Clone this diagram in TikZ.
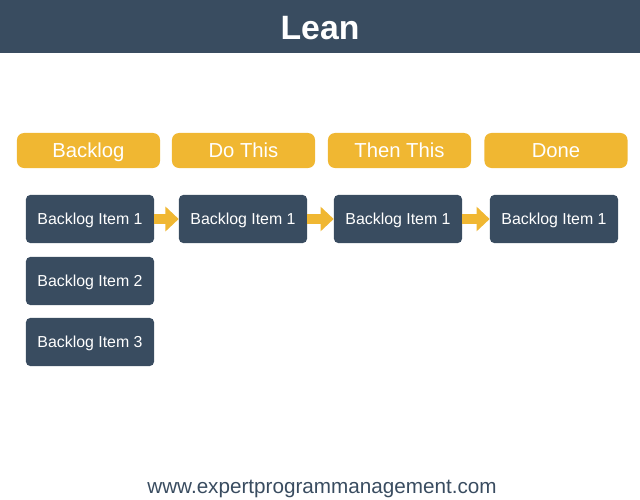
\documentclass[tikz,border=0pt]{standalone}
\usepackage{fontspec}
\setmainfont{Liberation Sans}
\usetikzlibrary{arrows.meta}
\definecolor{slate}{RGB}{57,76,96}
\definecolor{amber}{RGB}{240,183,50}
\tikzset{
  stage/.style={fill=amber, rounded corners=5pt, text=white, font=\fontsize{14.4}{16}\selectfont,
      minimum width=3.575cm, minimum height=0.875cm, inner sep=0pt, text height=10.3pt, text depth=0pt},
  item/.style={fill=slate, rounded corners=3pt, text=white, font=\fontsize{11.3}{13}\selectfont,
      minimum width=3.2cm, minimum height=1.2cm, inner sep=0pt, text height=8.1pt, text depth=0pt},
  flow/.style={amber, line width=0.25cm, -{Triangle[length=0.33cm, width=0.6cm]}},
}
\begin{document}
\begin{tikzpicture}[x=0.025cm, y=-0.025cm]
  \useasboundingbox (0,0) rectangle (640,500);
  \fill[slate] (0,0) rectangle (640,53);
  \node[text=white, font=\bfseries\fontsize{24}{28}\selectfont, text height=17.2pt, text depth=0pt] (title) at (320,27) {Lean};
  % column headings
  \node[stage] (backlog) at (88.5,150.5) {Backlog};
  \node[stage] (dothis) at (243.5,150.5) {Do This};
  \node[stage] (thenthis) at (399.5,150.5) {Then This};
  \node[stage] (done) at (556,150.5) {Done};
  % items
  \node[item] (b1) at (90,219) {Backlog Item 1};
  \node[item] (b2) at (90,281) {Backlog Item 2};
  \node[item] (b3) at (90,342) {Backlog Item 3};
  \node[item] (d1) at (243,219) {Backlog Item 1};
  \node[item] (t1) at (398,219) {Backlog Item 1};
  \node[item] (n1) at (554,219) {Backlog Item 1};
  \draw[flow] (b1) -- (d1);
  \draw[flow] (d1) -- (t1);
  \draw[flow] (t1) -- (n1);
  \node[text=slate, font=\fontsize{14.7}{17}\selectfont] (site) at (322,489) {www.expertprogrammanagement.com};
\end{tikzpicture}
\end{document}
